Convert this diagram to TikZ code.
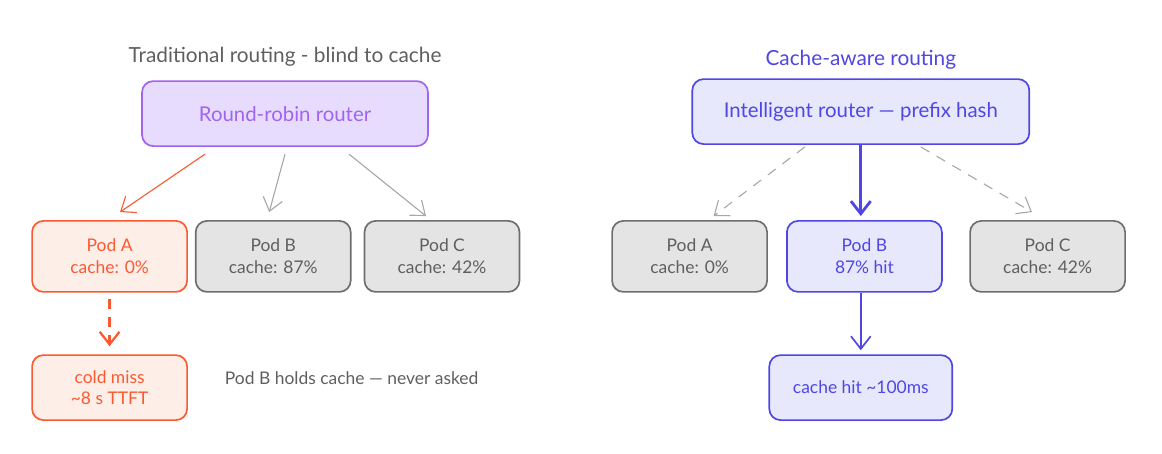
\documentclass[tikz,border=0pt]{standalone}
\usepackage{fontspec}
\setmainfont{Lato}
\usetikzlibrary{arrows.meta,positioning}
\definecolor{routerpurple}{RGB}{160,100,240}
\definecolor{routerfill}{RGB}{231,220,253}
\definecolor{missorange}{RGB}{250,90,50}
\definecolor{missfill}{RGB}{254,238,232}
\definecolor{podgray}{RGB}{110,110,110}
\definecolor{podfill}{RGB}{228,228,228}
\definecolor{textgray}{RGB}{95,95,95}
\definecolor{hitblue}{RGB}{79,70,229}
\definecolor{hitfill}{RGB}{232,232,252}
\tikzset{
    % box styles
    box/.style={
        rectangle, rounded corners=8pt, line width=1.2pt,
        font=\fontsize{12.4}{15.5}\selectfont, align=center
    },
    pod/.style={box, draw=podgray, fill=podfill, text=textgray,
        minimum width=3.875cm, minimum height=1.775cm},
    hotpod/.style={pod, draw=hitblue, fill=hitfill, text=hitblue},
    coldpod/.style={pod, draw=missorange, fill=missfill, text=missorange},
    router/.style={box, minimum height=1.625cm, font=\fontsize{14.5}{17}\selectfont},
    heading/.style={font=\fontsize{14.8}{17}\selectfont},
    % connector styles
    conn/.style={-{Straight Barb[length=9pt,width=14pt]}, line width=0.8pt},
    grayconn/.style={conn, draw=podgray!60},
}
\begin{document}
\begin{tikzpicture}
\useasboundingbox (0,0) rectangle (29.05,-11.35);

% Traditional routing
\node[heading, text=textgray] (ltitle) at (7.125,-1.425) {Traditional routing - blind to cache};
\node[router, draw=routerpurple, fill=routerfill, text=routerpurple, minimum width=7.15cm] (rr) at (7.125,-2.84) {Round-robin router};
\node[coldpod] (pa) at (2.74,-6.41) {Pod A\\cache: 0\%};
\node[pod] (pb) at (6.83,-6.41) {Pod B\\cache: 87\%};
\node[pod] (pc) at (11.05,-6.41) {Pod C\\cache: 42\%};
\node[coldpod, minimum height=1.625cm] (miss) at (2.74,-9.69) {cold miss\\\textasciitilde8 s TTFT};
\node[font=\fontsize{12.4}{15}\selectfont, text=textgray, anchor=west] (note) at (5.5,-9.45) {Pod B holds cache — never asked};

\draw[conn, draw=missorange] ([xshift=-2cm,yshift=-0.18cm]rr.south) -- ([xshift=0.26cm,yshift=0.2cm]pa.north);
\draw[grayconn] ([xshift=0cm,yshift=-0.18cm]rr.south) -- ([xshift=-0.1cm,yshift=0.2cm]pb.north);
\draw[grayconn] ([xshift=1.6cm,yshift=-0.18cm]rr.south) -- ([xshift=-0.4cm,yshift=0.1cm]pc.north);
\draw[conn, draw=missorange, line width=1.6pt, dash pattern=on 7pt off 6pt] ([yshift=-0.15cm]pa.south) -- ([yshift=0.2cm]miss.north);

% Cache-aware routing
\node[heading, text=hitblue] (rtitle) at (21.52,-1.5) {Cache-aware routing};
\node[router, draw=hitblue, fill=hitfill, text=hitblue, minimum width=8.425cm] (ir) at (21.52,-2.79) {Intelligent router — prefix hash};
\node[pod] (qa) at (17.24,-6.41) {Pod A\\cache: 0\%};
\node[hotpod] (qb) at (21.61,-6.41) {Pod B\\87\% hit};
\node[pod] (qc) at (26.19,-6.41) {Pod C\\cache: 42\%};
\node[hotpod, minimum width=4.575cm, minimum height=1.625cm] (hit) at (21.52,-9.69) {cache hit \textasciitilde100ms};

\draw[grayconn, dash pattern=on 7pt off 6pt] ([xshift=-1.4cm,yshift=-0.05cm]ir.south) -- ([xshift=0.6cm,yshift=0.1cm]qa.north);
\draw[conn, draw=hitblue, line width=2pt] (ir.south) -- ([xshift=-0.09cm,yshift=0.1cm]qb.north);
\draw[grayconn, dash pattern=on 7pt off 6pt] ([xshift=1.5cm,yshift=-0.05cm]ir.south) -- ([xshift=-0.39cm,yshift=0.2cm]qc.north);
\draw[conn, draw=hitblue, line width=1.2pt] ([xshift=-0.09cm]qb.south) -- ([yshift=0.1cm]hit.north);

\end{tikzpicture}
\end{document}
